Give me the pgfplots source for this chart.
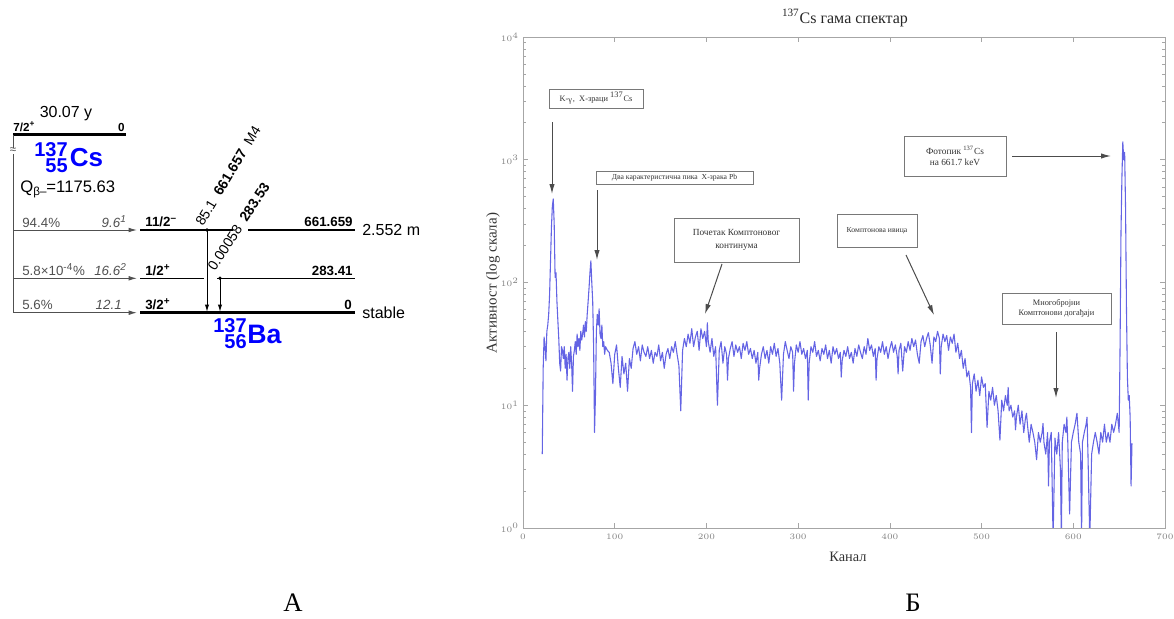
\documentclass[border=0pt]{standalone}
\usepackage{fontspec}
\setmainfont{Liberation Serif}
\newfontfamily\arial{Liberation Sans}
\usepackage{pgfplots}
\pgfplotsset{compat=1.18}
\usetikzlibrary{arrows.meta}
\newcommand\fs[1]{\fontsize{#1}{#1}\selectfont}
\newcommand\af[1]{\arial\fontsize{#1}{#1}\selectfont}
\definecolor{spec}{RGB}{100,100,228}
\definecolor{boxc}{RGB}{120,120,120}
\definecolor{betag}{RGB}{80,80,80}
\begin{document}
\begin{tikzpicture}
% ---------- spectrum ----------
\begin{axis}[at={(313.8pt,54.6pt)}, anchor=south west, scale only axis,
  width=385.2pt, height=294.6pt,
  xmin=0, xmax=700, ymode=log, ymin=1, ymax=10000,
  xtick={0,100,...,700}, ytick={1,10,100,1000,10000},
  tick align=inside, axis line style={gray!70}, every tick/.style={gray!70},
  major tick length=3pt, minor tick length=1.8pt,
  tick label style={font=\fs{4.5}, text=gray},
  xticklabel style={yshift=0pt}, yticklabel style={xshift=1pt},
  clip=true]
\addplot[spec, line width=0.65pt, line join=round] coordinates {
(21,4)(22,20)(23,36)(24,30)(25,23)(26,40)(27,45)(28,55)(29,80)(30,150)(31,280)(32,420)(33,480)(34,300)(35,110)(36,120)(37,70)(38,49)(39,35)(40,22)
(41,19)(42,30)(43,28)(44,24)(45,30)(46,20)(47,26)(48,16)(49,24)(50,27)(51,20)(52,30)(53,22)(54,13)(55,25)(56,28)(57,33)(58,26)(59,38)(60,30)
(61,35)(62,28)(63,40)(64,34)(65,38)(66,45)(67,36)(68,48)(69,40)(70,55)(71,70)(72,90)(73,120)(74,150)(75,100)(76,70)(77,30)(78,6)(79,12)(80,40)
(81,55)(82,45)(83,61)(84,38)(85,35)(86,45)(87,30)(88,33)(89,26)(90,30)
(92,28)(94,27)(96,22)(98,15)(100,26)(102,31)(104,20)(106,14)(108,25)(110,18)(112,22)(114,13)(116,24)(118,20)(120,29)(122,33)(124,26)(126,30)(128,23)(130,31)
(132,27)(134,25)(136,30)(138,24)(140,28)(142,22)(144,27)(146,25)(148,31)(150,23)(152,27)(154,20)(156,26)(158,29)(160,24)(162,30)(164,27)(166,33)(168,26)(170,21)
(172,9)(174,28)(176,35)(178,30)(180,38)(182,32)(184,42)(186,30)(188,36)(190,40)(192,28)(194,42)(196,35)(198,40)(200,30)(201,47)(202,33)(204,27)(206,35)(208,25)
(210,30)(212,10)(214,28)(216,33)(218,22)(220,30)(222,26)(223,16)(224,24)(226,29)(228,33)(230,25)(232,31)(234,27)(236,30)(238,24)(240,32)(242,28)(244,33)(246,26)
(248,29)(250,24)(252,28)(254,22)(256,27)(257,16)(258,20)(260,26)(262,30)(264,24)(266,28)(268,22)(270,30)(272,26)(274,32)(276,25)(278,29)(280,22)(282,11)(284,26)
(286,33)(288,28)(290,24)(292,30)(294,27)(295,13)(296,22)(298,31)(300,27)(302,33)(304,26)(306,29)(308,24)(310,28)(311,11)(312,22)(314,30)(316,27)(318,33)(320,25)
(322,28)(324,23)(326,29)(328,26)(330,31)(332,24)(334,28)(336,22)(338,30)(340,26)(342,29)(344,24)(346,27)(347,17)(348,23)(350,28)(352,25)(354,30)(356,24)(358,27)
(360,22)(362,29)(364,25)(366,31)(368,27)(370,24)(372,30)(374,26)(376,35)(378,28)(380,31)(382,25)(384,29)(385,16)(386,24)(388,30)(390,27)(392,33)(394,26)(396,30)
(398,24)(400,29)(402,33)(404,27)(406,31)(408,25)(409,18)(410,28)(412,32)(414,19)(416,30)(418,27)(420,33)(422,28)(424,35)(426,30)(428,34)(430,26)(432,22)(434,33)
(436,37)(438,30)(440,35)(442,39)(444,31)(446,22)(448,36)(450,33)(452,40)(454,35)(455,18)(456,30)(458,38)(460,33)(462,37)(464,28)(466,36)(468,32)(470,38)
(472,27)(474,32)(476,24)(478,28)(480,20)(482,24)(484,17)(486,19)(488,14)(489,6)(490,15)(492,18)(494,13)(496,16)(498,12)(500,17)(502,14)(504,15)(506,6.6)(508,13)
(510,11)(512,14)(514,10)(516,12)(518,9)(520,5.2)(522,11)(524,9)(526,12)(528,10)(529,14)(530,9)(532,10)(534,8)(536,9)(537,6.3)(538,8)(540,10)(542,7)(544,9)
(546,6)(548,8)(549,8.6)(550,7)(552,5)(554,7)(556,6)(558,5)(560,3.6)(562,6)(564,5)(566,6)(567,7.1)(568,5)(570,4)(572,6)(573,2.2)(574,5)(576,6)(578,0.8)
(580,5.4)(582,4)(584,6)(586,3)(587,0.8)(588,5)(590,7)(592,6)(593,8)(594,5)(596,1.3)(598,5)(600,6)(602,7)(604,8.6)(606,5)(608,4)(609,0.8)(610,5)(612,6)
(614,7)(615,8)(616,4)(618,0.8)(620,4)(622,5)(624,6)(626,5)(628,4)(630,6)(632,5)(634,7)(636,5)(638,6)(640,5)(642,7)(644,6)(646,7)(648,8.6)(650,6)
(651,30)(652,250)(653,700)(654,1400)(655,1000)(656,1150)(657,400)(658,60)(659,17)(660,11)(661,12)(662,8)(663,2.2)(664,4.9)
};
\end{axis}
% ---------- overlay in pixel coordinates ----------
\begin{axis}[at={(0pt,0pt)}, anchor=south west, scale only axis,
  width=704.4pt, height=371.4pt, xmin=0, xmax=1174, ymin=0, ymax=619,
  y dir=reverse, hide axis, clip=false]
% spectrum texts
\node[font=\fs{9.6}, text=black!85] at (845,18) {\textsuperscript{137}Cs гама спектар};
\node[font=\fs{9}, rotate=90, text=black!80] at (493,283) {Активност (log скала)};
\node[font=\fs{8.6}, text=black!80] at (848,557) {Канал};
% annotation boxes
\tikzset{ann/.style={draw=boxc, fill=white, line width=0.6pt, inner sep=0pt, align=center, text=black!80},
         aar/.style={black!70, line width=0.6pt, -{Latex[length=6pt,width=3.2pt]}}}
\node[ann, minimum width=56.4pt, minimum height=11.4pt, font=\fs{5}] at (596,98.5) {K-\textsubscript{γ},\ \ X-зраци \textsuperscript{137}Cs};
\draw[aar] (552,122) -- (552,194);
\node[ann, minimum width=94.2pt, minimum height=7.5pt, font=\fs{4.6}] at (674.5,178) {Два карактеристична пика\ \ X-зрака Pb};
\draw[aar] (597,190) -- (597,260);
\node[ann, minimum width=75pt, minimum height=26.4pt, font=\fs{5.6}] at (736.5,240) {Почетак Комптоновог\\[2pt]континума};
\draw[aar] (722,264) -- (705,314);
\node[ann, minimum width=48pt, minimum height=19.8pt, font=\fs{4.6}] at (877,230.5) {Комптонова ивица};
\draw[aar] (906,255) -- (934,315);
\node[ann, minimum width=61.2pt, minimum height=24pt, font=\fs{5.6}] at (955,156) {Фотопик \textsuperscript{137}Cs\\[1pt]на 661.7 keV};
\draw[aar] (1012,156) -- (1111,156);
\node[ann, minimum width=65.4pt, minimum height=18.6pt, font=\fs{5}] at (1056.5,308.5) {Многобројни\\[1pt]Комптонови догађаји};
\draw[aar] (1056,332) -- (1056,398);
% panel letters
\node[font=\fs{16}] at (293,603) {А};
\node[font=\fs{16}] at (913,603) {Б};
% ---------- decay scheme ----------
\node[font=\af{9.6}, anchor=base] at (66,117) {30.07 y};
\draw[line width=1.8pt] (13,134.3) -- (126,134.3);
\node[font=\af{7}\bfseries, anchor=base west, inner sep=0] at (13,131.5) {7/2\textsuperscript{+}};
\node[font=\af{7}\bfseries, anchor=base east, inner sep=0] at (125,131.5) {0};
\draw[betag, line width=0.6pt] (13,135) -- (13,313);
\node[font=\af{7}, fill=white, inner sep=0.2pt, text=betag] at (13,151) {≈};
\node[font=\af{12}\bfseries, text=blue, anchor=east, inner sep=0] at (68,150) {137};
\node[font=\af{12}\bfseries, text=blue, anchor=east, inner sep=0] at (68,166) {55};
\node[font=\af{15.6}\bfseries, text=blue, anchor=west, inner sep=0] at (69.5,158) {Cs};
\node[font=\af{10}, anchor=base west, inner sep=0] at (20,192) {Q\raisebox{-0.45ex}{\fs{7}β–}=1175.63};
% beta branches
\draw[betag, line width=0.6pt, -{Latex[length=5pt,width=2.8pt]}] (13,230) -- (137,230);
\draw[betag, line width=0.6pt, -{Latex[length=5pt,width=2.8pt]}] (13,278.3) -- (137,278.3);
\draw[betag, line width=0.6pt, -{Latex[length=5pt,width=2.8pt]}] (13,312.7) -- (137,312.7);
\node[font=\af{8}, text=betag, anchor=base west, inner sep=0] at (22,227) {94.4\%};
\node[font=\af{8}\itshape, text=betag, anchor=base east, inner sep=0] at (127,227) {9.6\textsuperscript{1}};
\node[font=\af{8}, text=betag, anchor=base west, inner sep=0] at (22,275) {5.8×10\textsuperscript{-4}\%};
\node[font=\af{8}\itshape, text=betag, anchor=base east, inner sep=0] at (127,275) {16.6\textsuperscript{2}};
\node[font=\af{8}, text=betag, anchor=base west, inner sep=0] at (22,309.5) {5.6\%};
\node[font=\af{8}\itshape, text=betag, anchor=base east, inner sep=0] at (122,309.5) {12.1};
% levels of Ba
\draw[line width=1.6pt] (140,230) -- (233,230);
\draw[line width=1.6pt] (248,230) -- (355,230);
\draw[line width=0.6pt] (140,278.3) -- (204,278.3);
\draw[line width=0.6pt] (217,278.3) -- (355,278.3);
\draw[line width=1.8pt] (140,312.7) -- (355,312.7);
\node[font=\af{8}\bfseries, anchor=base west, inner sep=0] at (145,226.5) {11/2\textsuperscript{–}};
\node[font=\af{8}\bfseries, anchor=base east, inner sep=0] at (353,226.5) {661.659};
\node[font=\af{9.6}, anchor=west, inner sep=0] at (362,230) {2.552 m};
\node[font=\af{8}\bfseries, anchor=base west, inner sep=0] at (145,275) {1/2\textsuperscript{+}};
\node[font=\af{8}\bfseries, anchor=base east, inner sep=0] at (353,275) {283.41};
\node[font=\af{8}\bfseries, anchor=base west, inner sep=0] at (145,309) {3/2\textsuperscript{+}};
\node[font=\af{8}\bfseries, anchor=base east, inner sep=0] at (352,309) {0};
\node[font=\af{9.6}, anchor=west, inner sep=0] at (362,313) {stable};
% gamma transitions
\fill (207,230) circle[radius=1.1pt];
\draw[line width=0.6pt, -{Latex[length=4.5pt,width=2.6pt]}] (207,230) -- (207,312);
\fill (220,278.3) circle[radius=1.1pt];
\draw[line width=0.6pt, -{Latex[length=4.5pt,width=2.6pt]}] (220,278.3) -- (220,312);
\node[font=\af{8.4}, rotate=59, anchor=base west, inner sep=0] at (203,227) {85.1\ \ \textbf{661.657}\ \ M4};
\node[font=\af{8.4}, rotate=57, anchor=base west, inner sep=0] at (215,272) {0.00058\ \ \textbf{283.53}};
\node[font=\af{12}\bfseries, text=blue, anchor=east, inner sep=0] at (247,326) {137};
\node[font=\af{12}\bfseries, text=blue, anchor=east, inner sep=0] at (247,342) {56};
\node[font=\af{16}\bfseries, text=blue, anchor=west, inner sep=0] at (247,334) {Ba};
\end{axis}
\pgfresetboundingbox
\path (0pt,0pt) rectangle (704.4pt,371.4pt);
\end{tikzpicture}
\end{document}
